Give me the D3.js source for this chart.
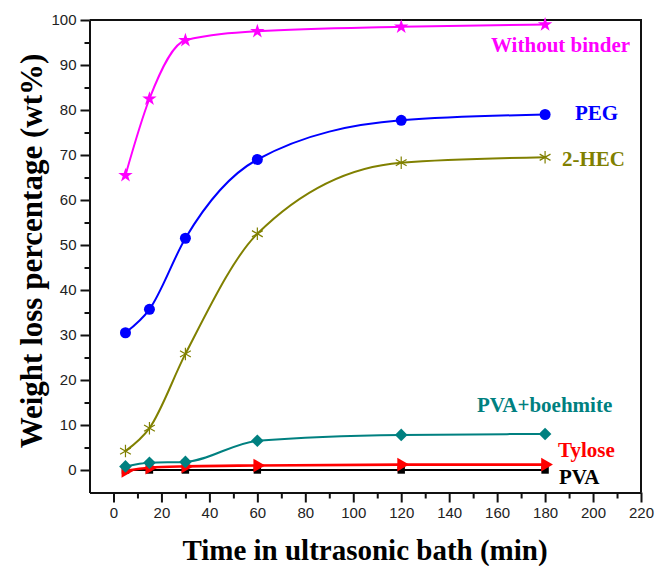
<!DOCTYPE html>
<html>
<head>
<meta charset="utf-8">
<script src="https://cdn.jsdelivr.net/npm/d3@7"></script>
<style>
  body { margin: 0; background: #fff; }
  svg { display: block; }
</style>
</head>
<body>
<div id="chart"></div>
<script>
// Data
const times = [5, 15, 30, 60, 120, 180];
const withoutBinder = [65.5, 82.5, 95.5, 97.5, 98.5, 99.0];
const peg = [30.5, 35.7, 51.5, 69.0, 77.7, 79.0];
const hec = [4.2, 9.3, 25.8, 52.5, 68.3, 69.5];
const pvaBoehmite = [0.8, 1.6, 1.8, 6.5, 7.8, 8.0];
const tylose = [-0.2, 0.5, 0.8, 1.0, 1.2, 1.2];
const pva = [0, 0, 0, 0, 0, 0];

const xTicks = d3.range(0, 221, 20);
const yTicks = d3.range(0, 101, 10);

const series = [
    { name: 'PVA', values: pva, color: '#000000', symbol: 'square', label: [559, 484] },
    { name: 'Tylose', values: tylose, color: '#ff0000', symbol: 'triangle', label: [558, 457] },
    { name: 'PVA+boehmite', values: pvaBoehmite, color: '#008080', symbol: 'diamond', label: [477, 412] },
    { name: '2-HEC', values: hec, color: '#808000', symbol: 'asterisk', label: [562, 166] },
    { name: 'PEG', values: peg, color: '#0000ff', symbol: 'circle', label: [575, 120] },
    { name: 'Without binder', values: withoutBinder, color: '#ff00ff', symbol: 'star', label: [491, 52] }
];

const width = 657;
const height = 566;

const svg = d3.select('#chart')
    .append('svg')
    .attr('width', width)
    .attr('height', height);

const x = d3.scaleLinear().domain([-10, 220]).range([89.5, 641]);
const y = d3.scaleLinear().domain([-5, 100]).range([492.5, 20]);

// Frame (top and right)
svg.append('path')
    .attr('d', `M${x(-10)},${y(100)}H${x(220)}V${y(-5)}`)
    .attr('fill', 'none')
    .attr('stroke', '#111')
    .attr('stroke-width', 2);

// X axis with major and minor ticks
svg.append('g')
    .attr('transform', `translate(0,${y(-5)})`)
    .call(d3.axisBottom(x).tickValues(xTicks).tickSize(10).tickSizeOuter(0).tickPadding(5));

svg.append('g')
    .attr('transform', `translate(0,${y(-5)})`)
    .call(d3.axisBottom(x).tickValues(d3.range(10, 220, 20)).tickSize(6).tickSizeOuter(0).tickFormat(''))
    .call(g => g.select('.domain').remove());

// Y axis with major and minor ticks
svg.append('g')
    .attr('transform', `translate(${x(-10)},0)`)
    .call(d3.axisLeft(y).tickValues(yTicks).tickSize(9).tickSizeOuter(0).tickPadding(4));

svg.append('g')
    .attr('transform', `translate(${x(-10)},0)`)
    .call(d3.axisLeft(y).tickValues(d3.range(5, 100, 10)).tickSize(5).tickSizeOuter(0).tickFormat(''))
    .call(g => g.select('.domain').remove());

svg.selectAll('.domain, .tick line')
    .attr('stroke', '#111')
    .attr('stroke-width', 2);

svg.selectAll('.tick text')
    .attr('font-family', '"Liberation Sans", Arial, sans-serif')
    .attr('font-size', 15)
    .attr('fill', '#222');

// Axis titles
svg.append('text')
    .attr('x', 365)
    .attr('y', 560)
    .attr('text-anchor', 'middle')
    .attr('font-family', '"Liberation Serif", "Times New Roman", serif')
    .attr('font-weight', 'bold')
    .attr('font-size', 29)
    .attr('fill', '#000')
    .text('Time in ultrasonic bath (min)');

svg.append('text')
    .attr('transform', 'translate(42,251) rotate(-90)')
    .attr('text-anchor', 'middle')
    .attr('font-family', '"Liberation Serif", "Times New Roman", serif')
    .attr('font-weight', 'bold')
    .attr('font-size', 31)
    .attr('fill', '#000')
    .text('Weight loss percentage (wt%)');

// Lines
const line = d3.line()
    .x((d, i) => x(times[i]))
    .y(d => y(d))
    .curve(d3.curveMonotoneX);

const symbolTypes = {
    square: d3.symbolSquare,
    triangle: d3.symbolTriangle,
    diamond: d3.symbolSquare,
    asterisk: d3.symbolAsterisk,
    circle: d3.symbolCircle,
    star: d3.symbolStar
};
const symbolSizes = { square: 55, triangle: 80, diamond: 80, asterisk: 110, circle: 95, star: 65 };
const symbolRotate = { square: 0, triangle: 90, diamond: 45, asterisk: 0, circle: 0, star: 0 };

series.forEach(s => {
    svg.append('path')
        .datum(s.values)
        .attr('d', line)
        .attr('fill', 'none')
        .attr('stroke', s.color)
        .attr('stroke-width', s.name === 'Tylose' ? 2.6 : 2);

    const sym = d3.symbol().type(symbolTypes[s.symbol]).size(symbolSizes[s.symbol]);
    const stroked = s.symbol === 'asterisk';

    svg.append('g')
        .selectAll('path')
        .data(s.values)
        .enter()
        .append('path')
        .attr('d', sym)
        .attr('transform', (d, i) => `translate(${x(times[i])},${y(d)}) rotate(${symbolRotate[s.symbol]})`)
        .attr('fill', stroked ? 'none' : s.color)
        .attr('stroke', stroked ? s.color : 'none')
        .attr('stroke-width', 1.2);

    svg.append('text')
        .attr('x', s.label[0])
        .attr('y', s.label[1])
        .attr('font-family', '"Liberation Serif", "Times New Roman", serif')
        .attr('font-weight', 'bold')
        .attr('font-size', 21)
        .attr('fill', s.color)
        .text(s.name);
});
</script>
</body>
</html>
